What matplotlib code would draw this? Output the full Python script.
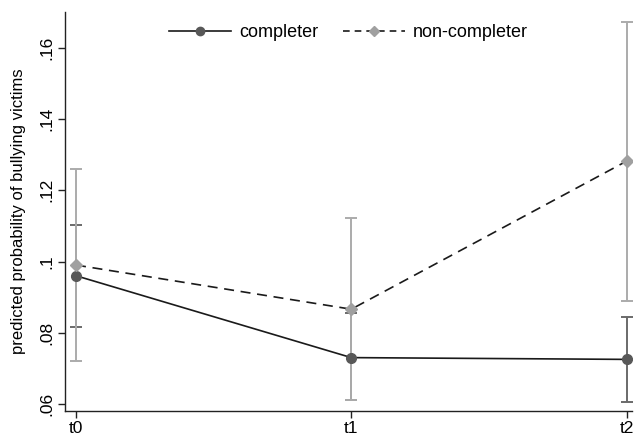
import numpy as np
import matplotlib
matplotlib.use('Agg')
import matplotlib.pyplot as plt

plt.rcParams['font.family'] = ['Liberation Sans', 'DejaVu Sans']

########## data
waves = ['t0', 't1', 't2']

comp_mean = [0.096, 0.0730, 0.0725]
comp_lo   = [0.0815, 0.0610, 0.0604]
comp_hi   = [0.1102, 0.0855, 0.0845]

non_mean = [0.0990, 0.0866, 0.1282]
non_lo   = [0.0720, 0.0612, 0.0890]
non_hi   = [0.1260, 0.1122, 0.1673]

########## plot
fig = plt.figure(figsize=(6.35, 4.37), dpi=100)
ax = fig.add_axes([0.1024, 0.0595, 0.893, 0.913])

x = np.arange(len(waves))

c_err = [np.array(comp_mean) - np.array(comp_lo), np.array(comp_hi) - np.array(comp_mean)]
n_err = [np.array(non_mean) - np.array(non_lo), np.array(non_hi) - np.array(non_mean)]

ax.errorbar(x, comp_mean, yerr=c_err, fmt='none', ecolor='#6a6a6a', elinewidth=1.4,
            capsize=4, capthick=1.4, zorder=2)
ax.errorbar(x, non_mean, yerr=n_err, fmt='none', ecolor='#ababab', elinewidth=1.4,
            capsize=4, capthick=1.4, zorder=2)

ax.plot(x, comp_mean, '-', color='#1a1a1a', lw=1.2, zorder=3)
ax.plot(x, non_mean, '--', color='#1a1a1a', lw=1.2, dashes=(6, 4), zorder=3)
ax.plot(x, comp_mean, 'o', color='#585858', ms=7, zorder=4)
ax.plot(x, non_mean, 'D', color='#a0a0a0', ms=6.5, zorder=4)

# legend handles
h1, = ax.plot([], [], '-', color='#1a1a1a', lw=1.2, marker='o', mfc='#585858', mec='#585858', ms=6)
h2, = ax.plot([], [], '--', color='#1a1a1a', lw=1.2, dashes=(4, 3), marker='D', mfc='#a0a0a0', mec='#a0a0a0', ms=5.5)
ax.legend([h1, h2], ['completer', 'non-completer'], loc='upper center', ncol=2, frameon=False,
          fontsize=13, handlelength=3.4, handletextpad=0.45, columnspacing=1.4,
          bbox_to_anchor=(0.5, 1.01))

ax.set_xlim(-0.04, 2.02)
ax.set_ylim(0.058, 0.1701)
ax.set_xticks(x)
ax.set_xticklabels(waves)
ax.set_yticks([0.06, 0.08, 0.10, 0.12, 0.14, 0.16])
ax.set_yticklabels(['.06', '.08', '.1', '.12', '.14', '.16'], rotation=90, va='center')
ax.tick_params(labelsize=12.5, length=5, width=1, color='#222222', pad=3)
ax.tick_params(axis='x', pad=2)
ax.set_ylabel('predicted probability of bullying victims', fontsize=12, labelpad=9)

ax.spines['top'].set_visible(False)
ax.spines['right'].set_visible(False)
for s in ['left', 'bottom']:
    ax.spines[s].set_color('#222222')
    ax.spines[s].set_linewidth(1)

plt.savefig('out.png', dpi=100)
